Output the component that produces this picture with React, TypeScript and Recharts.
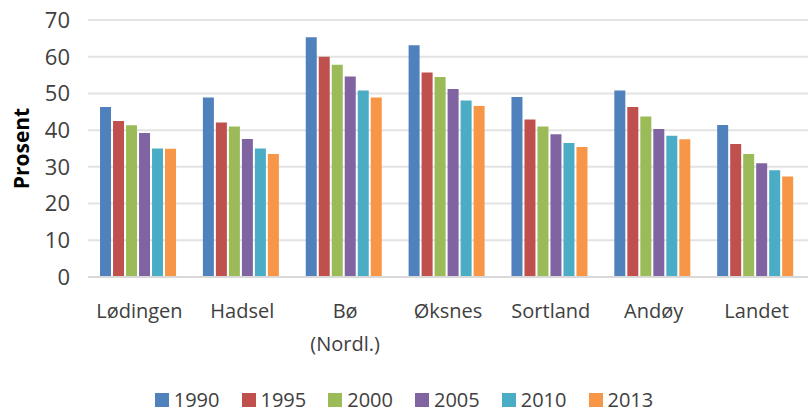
import React from 'react';
import { BarChart, Bar, XAxis, YAxis, CartesianGrid, Legend } from 'recharts';

const kommuner = ['Lødingen', 'Hadsel', 'Bø (Nordl.)', 'Øksnes', 'Sortland', 'Andøy', 'Landet'];
const years = ['1990', '1995', '2000', '2005', '2010', '2013'];

const v1990 = [46.3, 48.9, 65.3, 63.1, 49.0, 50.8, 41.4];
const v1995 = [42.5, 42.1, 60.0, 55.7, 42.9, 46.3, 36.2];
const v2000 = [41.3, 41.0, 57.8, 54.5, 41.0, 43.7, 33.5];
const v2005 = [39.2, 37.6, 54.6, 51.2, 38.9, 40.3, 31.0];
const v2010 = [35.0, 35.0, 50.8, 48.1, 36.5, 38.5, 29.1];
const v2013 = [34.9, 33.5, 48.9, 46.6, 35.4, 37.5, 27.4];

const yTicks = [0, 10, 20, 30, 40, 50, 60, 70];

const colors = ['#4f81bd', '#c0504d', '#9bbb59', '#8064a2', '#4bacc6', '#f79646'];
const series = [v1990, v1995, v2000, v2005, v2010, v2013];

const data = kommuner.map((name, i) => {
    const row: Record<string, string | number> = { name };
    years.forEach((y, j) => {
        row[y] = series[j][i];
    });
    return row;
});

const FONT = '"Open Sans", sans-serif';
const TEXT = '#404040';

const CategoryTick = (props: any) => {
    const { x, y, payload } = props;
    const lines = String(payload.value).split(' ');
    return (
        <text x={x} y={y + 33} textAnchor="middle" fill={TEXT} fontFamily={FONT} fontSize={20}>
            {lines.map((l, i) => (
                <tspan key={i} x={x} dy={i === 0 ? 0 : 33}>{l}</tspan>
            ))}
        </text>
    );
};

const YearLegend = () => (
    <div style={{ display: 'flex', justifyContent: 'center', paddingTop: 13, fontFamily: FONT, fontSize: 20, color: TEXT, lineHeight: '20px' }}>
        {years.map((y, i) => (
            <div key={y} style={{ display: 'flex', alignItems: 'center', marginRight: i < years.length - 1 ? 22 : 0 }}>
                <span style={{ width: 14, height: 14, background: colors[i], marginRight: 5, display: 'inline-block' }} />
                <span>{y}</span>
            </div>
        ))}
    </div>
);

export default function App() {
    return (
        <div style={{ position: 'absolute', left: 0, top: 0, background: '#fff' }}>
            <BarChart
                width={808}
                height={413}
                data={data}
                margin={{ top: 20, right: 0, left: 0, bottom: 0 }}
                barCategoryGap="11.7%"
                barGap={2}
            >
                <CartesianGrid vertical={false} stroke="#e3e3e3" strokeWidth={2} />
                <XAxis
                    dataKey="name"
                    height={100}
                    tickLine={false}
                    axisLine={{ stroke: '#d9d9d9', strokeWidth: 2 }}
                    tick={<CategoryTick />}
                    interval={0}
                />
                <YAxis
                    width={88}
                    domain={[0, 70]}
                    ticks={yTicks}
                    tickLine={false}
                    axisLine={false}
                    tickMargin={12}
                    tick={{ fill: TEXT, fontFamily: FONT, fontSize: 22 }}
                    label={{
                        value: 'Prosent',
                        angle: -90,
                        position: 'insideLeft',
                        offset: 22,
                        style: { textAnchor: 'middle', fontFamily: FONT, fontSize: 21, fontWeight: 'bold', fill: '#000' },
                    }}
                />
                <Legend verticalAlign="bottom" height={36} content={<YearLegend />} />
                {years.map((y, i) => (
                    <Bar key={y} dataKey={y} fill={colors[i]} isAnimationActive={false} />
                ))}
            </BarChart>
        </div>
    );
}
